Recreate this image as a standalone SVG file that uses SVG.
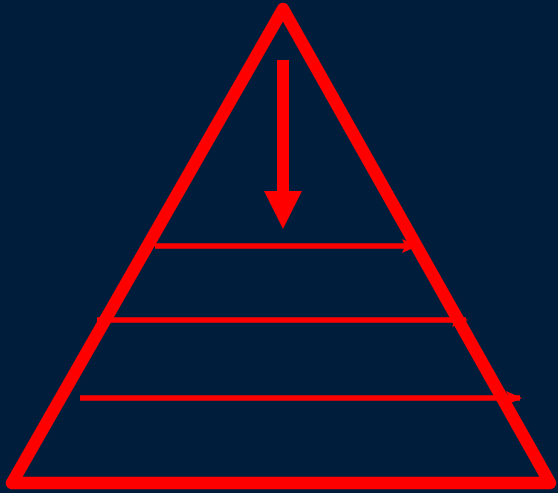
<svg xmlns="http://www.w3.org/2000/svg" width="558" height="493" viewBox="0 0 558 493">
<defs>
<style>
.red{stroke:#ff0000;fill:none}
.line{stroke:#ff0000;stroke-width:5.5;fill:none}
</style>
<marker id="ah" markerUnits="userSpaceOnUse" markerWidth="16" markerHeight="16" viewBox="0 0 16 16" refX="14" refY="8" orient="auto">
<path d="M0,1 L16,8 L0,15 L3,8 Z" fill="#ff0000"/>
</marker>
</defs>
<rect width="558" height="493" fill="#001e3c"/>
<g id="pyramid">
<polygon class="red" points="283,9 12,483 550,483" stroke-width="12.5" stroke-linejoin="round"/>
</g>
<g id="connectors">
<line class="line" x1="155" y1="246" x2="416" y2="246" marker-end="url(#ah)"/>
<line class="line" x1="97" y1="320" x2="466" y2="320" marker-end="url(#ah)"/>
<line class="line" x1="80" y1="398" x2="520" y2="398" marker-end="url(#ah)"/>
<g id="down-arrow">
<rect x="277" y="60" width="12" height="132" fill="#ff0000"/>
<polygon points="264,191 302,191 283,229" fill="#ff0000"/>
</g>
</g>
</svg>
